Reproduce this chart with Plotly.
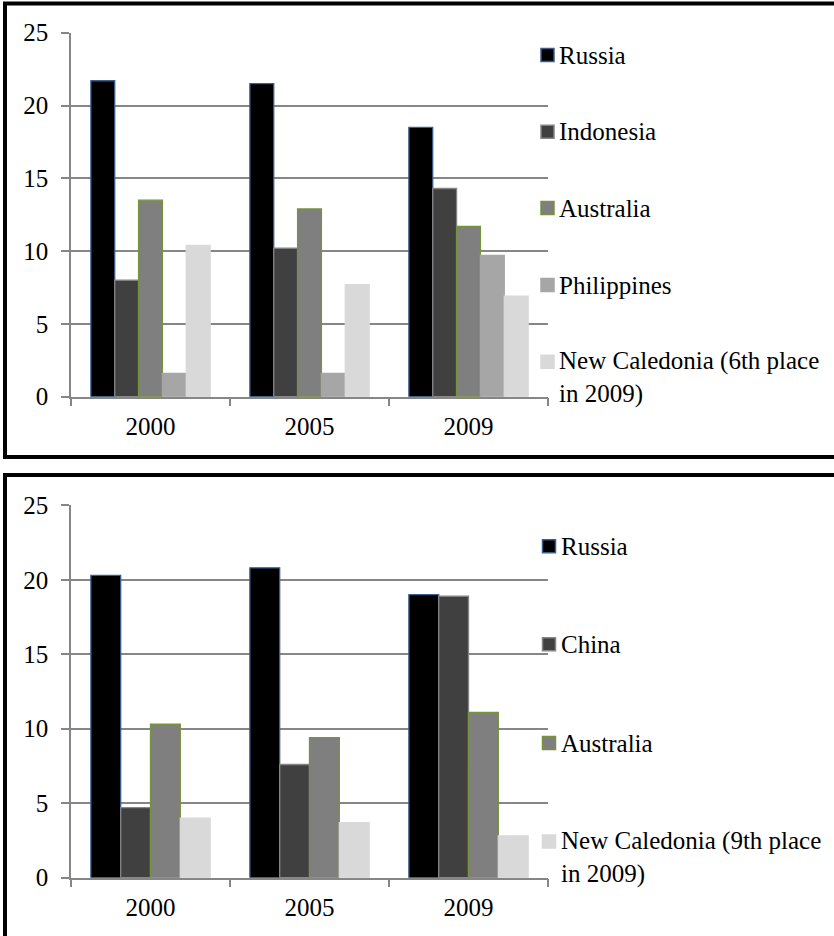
import plotly.graph_objects as go

# ---- data -------------------------------------------------------------
years = ["2000", "2005", "2009"]

top_series = ["Russia", "Indonesia", "Australia", "Philippines",
              "New Caledonia (6th place<br>in 2009)"]
top_values = {
    "Russia":      [21.7, 21.5, 18.5],
    "Indonesia":   [8.0, 10.2, 14.3],
    "Australia":   [13.5, 12.9, 11.7],
    "Philippines": [1.6, 1.6, 9.7],
    "New Caledonia (6th place<br>in 2009)": [10.4, 7.7, 6.9],
}

bottom_series = ["Russia", "China", "Australia",
                 "New Caledonia (9th place<br>in 2009)"]
bottom_values = {
    "Russia":    [20.3, 20.8, 19.0],
    "China":     [4.7, 7.6, 18.9],
    "Australia": [10.3, 9.4, 11.1],
    "New Caledonia (9th place<br>in 2009)": [4.0, 3.7, 2.8],
}

y_ticks = [0, 5, 10, 15, 20, 25]

# ---- styling ----------------------------------------------------------
W, H = 834, 936
FONT = "Liberation Serif"
FS = 25
GRID = "#868686"

fills = {
    "Russia": "#000000", "Indonesia": "#404040", "China": "#404040",
    "Australia": "#7f7f7f", "Philippines": "#a6a6a6", "NC": "#d9d9d9",
}
edges = {
    "Russia": "#3b5e8c", "Indonesia": "#858585", "China": "#858585",
    "Australia": "#77933c", "Philippines": "#a6a6a6", "NC": "#d9d9d9",
}


def key(name):
    return "NC" if name.startswith("New Caledonia") else name


def px(x):
    return x / W


def py(y):
    return 1 - y / H


fig = go.Figure()

for name in top_series:
    k = key(name)
    fig.add_trace(go.Bar(
        x=years, y=top_values[name], name=name, xaxis="x", yaxis="y",
        marker=dict(color=fills[k], line=dict(color=edges[k], width=1.3)),
        showlegend=False,
    ))

for name in bottom_series:
    k = key(name)
    fig.add_trace(go.Bar(
        x=years, y=bottom_values[name], name=name, xaxis="x2", yaxis="y2",
        marker=dict(color=fills[k], line=dict(color=edges[k], width=1.3)),
        showlegend=False,
    ))

yax = dict(
    range=[0, 25], tickvals=y_ticks, showgrid=True, gridcolor=GRID, gridwidth=1.5,
    showline=True, linecolor=GRID, linewidth=1.5, ticks="outside", ticklen=8,
    tickcolor=GRID, tickwidth=1.5, zeroline=False, ticklabelstandoff=8,
    tickfont=dict(family=FONT, size=FS, color="black"), fixedrange=True,
    automargin=False,
)
xax = dict(
    type="category", showgrid=False, showline=True, linecolor=GRID, linewidth=1.5,
    ticks="outside", tickson="boundaries", ticklen=8, tickcolor=GRID, tickwidth=1.5,
    ticklabelstandoff=7, tickfont=dict(family=FONT, size=FS, color="black"),
    domain=[px(71), px(548)], fixedrange=True, automargin=False,
)

shapes = []
annotations = []

# panel frames
for y0, y1 in [(3.5, 457), (475, 945)]:
    shapes.append(dict(type="rect", xref="paper", yref="paper",
                       x0=px(5), x1=px(836), y0=py(y1), y1=py(y0),
                       line=dict(color="black", width=4), fillcolor="rgba(0,0,0,0)"))


def legend(series, centers, icon_x, text_x):
    for name, cy in zip(series, centers):
        k = key(name)
        shapes.append(dict(type="rect", xref="paper", yref="paper",
                           x0=px(icon_x), x1=px(icon_x + 13),
                           y0=py(cy + 6.5), y1=py(cy - 6.5),
                           fillcolor=fills[k], line=dict(color=edges[k], width=1.5)))
        multi = "<br>" in name
        annotations.append(dict(
            xref="paper", yref="paper", x=px(text_x),
            y=py(cy - 17) if multi else py(cy),
            xanchor="left", yanchor="top" if multi else "middle",
            text=name, showarrow=False, align="left",
            font=dict(family=FONT, size=FS, color="black"),
        ))


legend(top_series, [55, 131.7, 208, 285, 361.7], 541, 557)
legend(bottom_series, [546.3, 644.3, 743, 841.5], 542.5, 559)

fig.update_layout(
    width=W, height=H,
    margin=dict(l=0, r=0, t=0, b=0, pad=0, autoexpand=False),
    paper_bgcolor="white", plot_bgcolor="white",
    barmode="group", bargap=0.25, bargroupgap=0,
    xaxis=dict(xax, anchor="y"),
    yaxis=dict(yax, domain=[py(396.7), py(32.7)], anchor="x"),
    xaxis2=dict(xax, anchor="y2"),
    yaxis2=dict(yax, domain=[py(877.7), py(505.3)], anchor="x2"),
    shapes=shapes, annotations=annotations, showlegend=False,
)

fig.write_html("out.html")
